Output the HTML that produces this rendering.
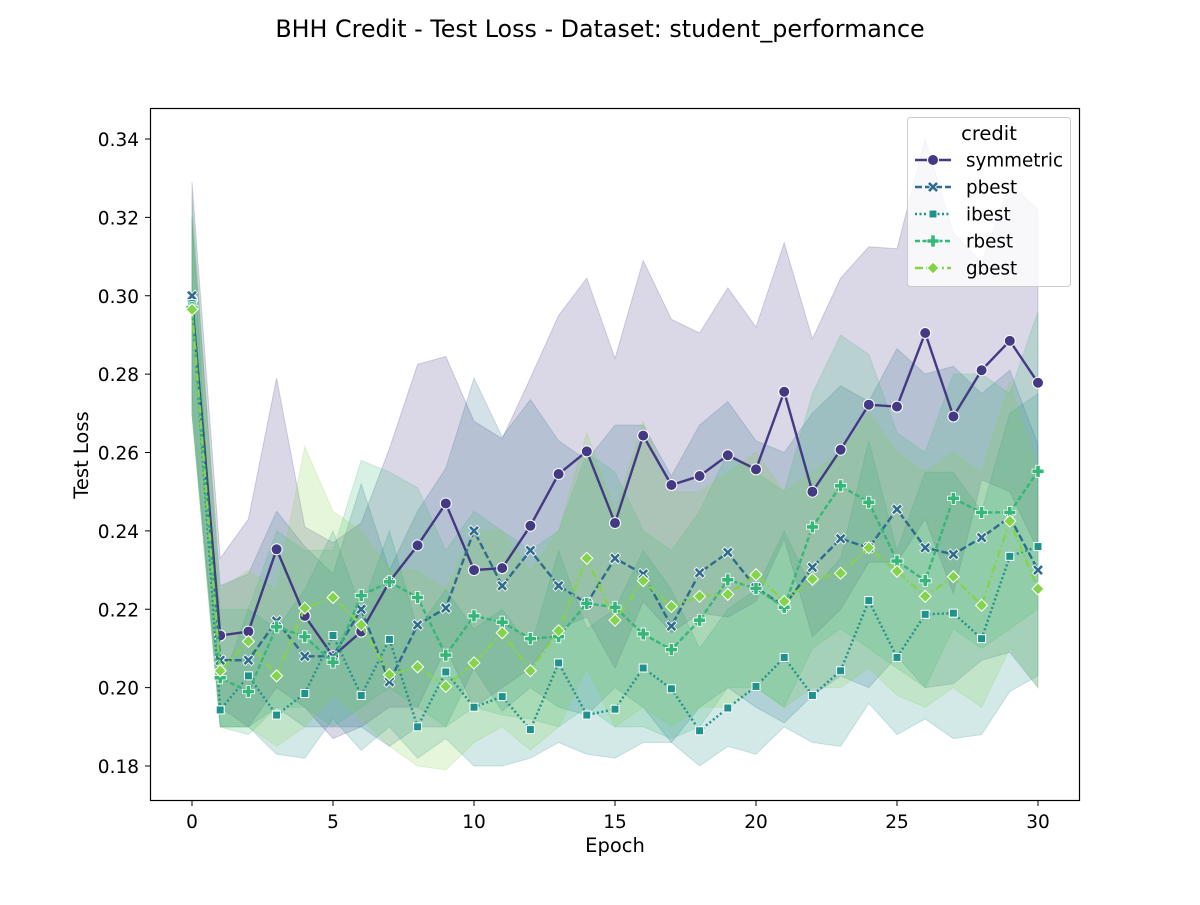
<!DOCTYPE html>
<html><head><meta charset="utf-8"><style>
body{margin:0;background:#fff;}
svg text{font-family:"DejaVu Sans","Liberation Sans",sans-serif;fill:#000;}
</style></head><body>
<svg id="chart" width="1200" height="900" xmlns="http://www.w3.org/2000/svg">
<text x="600" y="37" text-anchor="middle" font-size="23.8">BHH Credit - Test Loss - Dataset: student_performance</text>
<g id="bands"></g>
<g id="lines"></g>
<rect x="150.5" y="108.5" width="929" height="692" fill="none" stroke="#000" stroke-width="1.2"/>
<g id="axes"></g>
<text x="615" y="852" text-anchor="middle" font-size="19.5">Epoch</text>
<text transform="translate(88,455) rotate(-90)" text-anchor="middle" font-size="19.5">Test Loss</text>
<g id="legend"></g>
</svg>
<script>
const names=["symmetric","pbest","ibest","rbest","gbest"];
const colors=["#443983","#2f6b8e","#20928c","#35b779","#84d44b"];
const xTicks=[0,5,10,15,20,25,30];
const yTicks=[0.18,0.20,0.22,0.24,0.26,0.28,0.30,0.32,0.34];
const symmetric=[0.299,0.2133,0.2143,0.2353,0.2183,0.208,0.2143,0.227,0.2363,0.247,0.230,0.2305,0.2413,0.2545,0.2603,0.242,0.2643,0.2517,0.254,0.2593,0.2557,0.2755,0.25,0.2607,0.2722,0.2717,0.2905,0.2692,0.281,0.2885,0.2778];
const pbest=[0.300,0.207,0.207,0.217,0.208,0.208,0.220,0.2015,0.216,0.2203,0.240,0.226,0.235,0.226,0.2215,0.233,0.229,0.2157,0.2293,0.2345,0.2255,0.2208,0.2307,0.238,0.2357,0.2455,0.2357,0.234,0.2383,0.2435,0.230];
const ibest=[0.298,0.1943,0.203,0.193,0.1985,0.2133,0.198,0.2123,0.190,0.204,0.195,0.1977,0.1893,0.2063,0.193,0.1945,0.205,0.1997,0.189,0.1948,0.2003,0.2077,0.198,0.2043,0.2222,0.2077,0.2187,0.219,0.2125,0.2335,0.236];
const rbest=[0.297,0.2025,0.199,0.2155,0.213,0.2065,0.2235,0.227,0.223,0.2083,0.2183,0.2167,0.2125,0.213,0.2215,0.2205,0.2137,0.2097,0.2172,0.2275,0.2253,0.2205,0.241,0.2515,0.2473,0.2323,0.2273,0.2483,0.2447,0.2447,0.2552];
const gbest=[0.2965,0.2043,0.2118,0.203,0.2203,0.223,0.216,0.2033,0.2053,0.2003,0.2063,0.214,0.2043,0.2145,0.233,0.2172,0.2273,0.2207,0.2233,0.2238,0.2288,0.222,0.2277,0.2292,0.2357,0.2297,0.2233,0.2283,0.221,0.2425,0.2252];
const symUp=[0.329,0.233,0.243,0.279,0.241,0.237,0.242,0.261,0.2825,0.2845,0.268,0.2635,0.279,0.295,0.3045,0.284,0.309,0.294,0.2905,0.302,0.292,0.3135,0.289,0.3045,0.3125,0.312,0.340,0.316,0.3085,0.3285,0.322];
const symLo=[0.27,0.195,0.19,0.20,0.195,0.187,0.19,0.195,0.195,0.21,0.195,0.20,0.205,0.215,0.218,0.205,0.222,0.214,0.219,0.218,0.222,0.238,0.213,0.22,0.232,0.232,0.243,0.224,0.253,0.25,0.235];
const pUp=[0.32,0.226,0.229,0.245,0.236,0.229,0.252,0.230,0.245,0.256,0.279,0.264,0.2735,0.263,0.258,0.267,0.267,0.254,0.267,0.273,0.263,0.26,0.27,0.277,0.273,0.2865,0.28,0.282,0.275,0.281,0.262];
const pLo=[0.275,0.19,0.19,0.195,0.19,0.19,0.19,0.185,0.19,0.19,0.205,0.194,0.2,0.195,0.193,0.2,0.195,0.186,0.195,0.2,0.195,0.191,0.198,0.203,0.2,0.208,0.2,0.201,0.207,0.209,0.2];
const iUp=[0.32,0.2,0.22,0.215,0.225,0.24,0.22,0.24,0.215,0.225,0.215,0.22,0.21,0.235,0.215,0.22,0.235,0.225,0.21,0.22,0.225,0.24,0.225,0.233,0.263,0.235,0.255,0.255,0.245,0.27,0.275];
const iLo=[0.27,0.19,0.19,0.183,0.182,0.192,0.184,0.19,0.182,0.187,0.18,0.18,0.182,0.186,0.183,0.182,0.186,0.186,0.18,0.185,0.183,0.19,0.186,0.185,0.196,0.188,0.192,0.187,0.188,0.199,0.203];
const rUp=[0.325,0.22,0.22,0.24,0.235,0.235,0.258,0.255,0.251,0.235,0.245,0.24,0.235,0.24,0.26,0.255,0.24,0.235,0.245,0.26,0.255,0.25,0.275,0.29,0.285,0.265,0.26,0.28,0.28,0.275,0.296];
const rLo=[0.27,0.19,0.188,0.195,0.195,0.19,0.195,0.2,0.195,0.19,0.195,0.193,0.192,0.19,0.195,0.19,0.19,0.187,0.19,0.2,0.2,0.195,0.21,0.215,0.21,0.205,0.2,0.215,0.21,0.215,0.22];
const gUp=[0.32,0.225,0.23,0.225,0.2615,0.245,0.24,0.23,0.23,0.225,0.24,0.24,0.23,0.24,0.265,0.245,0.268,0.25,0.25,0.255,0.26,0.25,0.255,0.26,0.27,0.26,0.255,0.26,0.255,0.278,0.255];
const gLo=[0.27,0.19,0.19,0.185,0.19,0.198,0.192,0.185,0.18,0.179,0.186,0.19,0.184,0.19,0.205,0.19,0.195,0.19,0.195,0.195,0.2,0.195,0.2,0.2,0.205,0.198,0.195,0.2,0.195,0.21,0.2];
const means=[symmetric,pbest,ibest,rbest,gbest];
const ups=[symUp,pUp,iUp,rUp,gUp];
const los=[symLo,pLo,iLo,rLo,gLo];
const dashes=["","7,3","2,2.5","5,2.5","8,3,2,3"];
const NS="http://www.w3.org/2000/svg";
function X(e){return 192+(e/30)*846;}
function Y(v){return 766-(v-0.18)*3918.75;}
function mk(tag,attrs,parent){const el=document.createElementNS(NS,tag);for(const k in attrs)el.setAttribute(k,attrs[k]);parent.appendChild(el);return el;}
function marker(i,x,y,parent,s){
  s=s||1;let el;
  if(i===0){el=mk("circle",{cx:x,cy:y,r:5.5*s,fill:colors[i],stroke:"#fff","stroke-width":1},parent);}
  else if(i===1){const d=5.5*s,w=2.4*s;el=mk("path",{d:`M${x-d} ${y-d+w}L${x-d+w} ${y-d}L${x} ${y-w}L${x+d-w} ${y-d}L${x+d} ${y-d+w}L${x+w} ${y}L${x+d} ${y+d-w}L${x+d-w} ${y+d}L${x} ${y+w}L${x-d+w} ${y+d}L${x-d} ${y+d-w}L${x-w} ${y}Z`,fill:colors[i],stroke:"#fff","stroke-width":0.8},parent);}
  else if(i===2){el=mk("rect",{x:x-4*s,y:y-4*s,width:8*s,height:8*s,fill:colors[i],stroke:"#fff","stroke-width":1},parent);}
  else if(i===3){const a=6*s,b=2.2*s;el=mk("path",{d:`M${x-b} ${y-a}H${x+b}V${y-b}H${x+a}V${y+b}H${x+b}V${y+a}H${x-b}V${y+b}H${x-a}V${y-b}H${x-b}Z`,fill:colors[i],stroke:"#fff","stroke-width":0.8},parent);}
  else{const a=6*s;el=mk("path",{d:`M${x} ${y-a}L${x+a} ${y}L${x} ${y+a}L${x-a} ${y}Z`,fill:colors[i],stroke:"#fff","stroke-width":1},parent);}
  return el;
}
const bands=document.getElementById("bands"),lines=document.getElementById("lines"),axes=document.getElementById("axes"),legend=document.getElementById("legend");
for(let i=0;i<5;i++){
  let d="";
  ups[i].forEach((v,k)=>{d+=(k?"L":"M")+X(k)+" "+Y(v);});
  for(let k=los[i].length-1;k>=0;k--)d+="L"+X(k)+" "+Y(los[i][k]);
  const p=mk("path",{d:d+"Z",fill:colors[i],"fill-opacity":0.2,stroke:colors[i],"stroke-opacity":0.2},bands);
  
  
}
for(let i=0;i<5;i++){
  const g=mk("g",{},lines);
  
  
  const pts=means[i].map((v,k)=>X(k)+","+Y(v)).join(" ");
  const pl=mk("polyline",{points:pts,fill:"none",stroke:colors[i],"stroke-width":2.4,"stroke-dasharray":dashes[i]},g);
  
  
  means[i].forEach((v,k)=>{const m=marker(i,X(k),Y(v),g);
    
    });
}
xTicks.forEach(t=>{const x=X(t);mk("line",{x1:x,x2:x,y1:801,y2:806,stroke:"#000"},axes);
  const tx=mk("text",{x:x,y:828,"text-anchor":"middle","font-size":18.5},axes);tx.textContent=t;
  
  });
yTicks.forEach(t=>{const y=Y(t);mk("line",{x1:145,x2:150,y1:y,y2:y,stroke:"#000"},axes);
  const tx=mk("text",{x:139,y:y+7,"text-anchor":"end","font-size":18.5},axes);tx.textContent=t.toFixed(2);
  
  });
const lb=mk("rect",{x:907.5,y:117.5,width:163,height:169,rx:3,fill:"#fff","fill-opacity":0.8,stroke:"#ccc"},legend);


const lt=mk("text",{x:989,y:140,"text-anchor":"middle","font-size":19.5},legend);lt.textContent="credit";


names.forEach((n,i)=>{const y=160+i*27;
  const g=mk("g",{},legend);
  
  
  mk("line",{x1:915,x2:951,y1:y,y2:y,stroke:colors[i],"stroke-width":2.4,"stroke-dasharray":dashes[i]},g);
  marker(i,933,y,g);
  const t=mk("text",{x:966,y:y+6.5,"font-size":18.3},g);t.textContent=n;});
</script>
</body></html>
